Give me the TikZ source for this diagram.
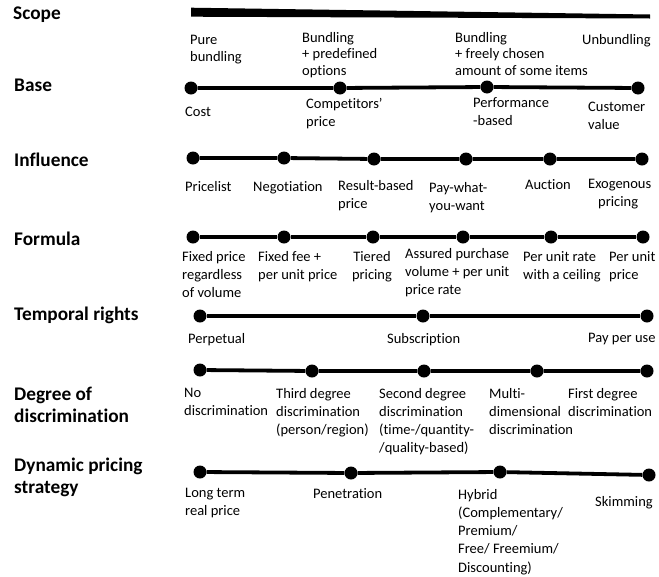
\documentclass[tikz,border=0pt]{standalone}
\usepackage{fontspec}
\setmainfont{Carlito}[Ligatures=NoCommon]
\begin{document}
\begin{tikzpicture}[x=1pt,y=-1pt,
  dot/.style={circle, fill=black, inner sep=0pt, minimum size=13pt},
  conn/.style={line width=3.8pt},
  lbl/.style={anchor=north west, inner sep=0pt, align=left, font=\fontsize{14.5}{18.2}\selectfont},
  lbls/.style={anchor=north west, inner sep=0pt, align=left, font=\fontsize{14.5}{16.6}\selectfont},
  lblc/.style={anchor=north, inner sep=0pt, align=center, font=\fontsize{14.5}{18.2}\selectfont},
  head/.style={anchor=north west, inner sep=0pt, align=left, font=\fontsize{19.3}{21.5}\selectfont\bfseries}]
\useasboundingbox (0,0) rectangle (659,576);

% headings
\node[head] (hscope) at (13,7) {Scope};
\node[head] (hbase) at (14,79) {Base};
\node[head] (hinfl) at (14,153) {Influence};
\node[head] (hform) at (14,232) {Formula};
\node[head] (htemp) at (14,307) {Temporal rights};
\node[head] (hdeg) at (14,387) {Degree of\\discrimination};
\node[head] (hdyn) at (14,458) {Dynamic pricing\\strategy};

% scope wedge
\fill (191,7.7) -- (650,14.5) -- (650,18.5) -- (191,16.7) -- cycle;
\node[lbls] (s1) at (190,35) {Pure\\bundling};
\node[lbls] (s2) at (302,32) {Bundling\\+ predefined\\options};
\node[lbls] (s3) at (455,32) {Bundling\\+ freely chosen\\amount of some items};
\node[lbls] (s4) at (582,34) {Unbundling};

% base
\node[dot] (b1) at (191,88) {};
\node[dot] (b2) at (340,88) {};
\node[dot] (b3) at (487,87) {};
\node[dot] (b4) at (638,88) {};
\draw[conn] (b1) -- (b2) -- (b3) -- (b4);
\node[lbl] (lb1) at (185,107) {Cost};
\node[lbl] (lb2) at (306,98) {Competitors'\\price};
\node[lbl] (lb3) at (473,97) {Performance\\-based};
\node[lbl] (lb4) at (588,102) {Customer\\value};

% influence
\node[dot] (i1) at (193,158) {};
\node[dot] (i2) at (284,158) {};
\node[dot] (i3) at (374,159) {};
\node[dot] (i4) at (466,159) {};
\node[dot] (i5) at (550,159) {};
\node[dot] (i6) at (642,159) {};
\draw[conn] (i1) -- (i2) -- (i3) -- (i4) -- (i5) -- (i6);
\node[lbl] (li1) at (185,181) {Pricelist};
\node[lbl] (li2) at (253,181) {Negotiation};
\node[lbl] (li3) at (338,180) {Result-based\\price};
\node[lbl] (li4) at (429,182) {Pay-what-\\you-want};
\node[lbl] (li5) at (525,179) {Auction};
\node[lbl] (li6) at (588,179) {Exogenous\\\hspace*{10pt}pricing};

% formula
\node[dot] (f1) at (193,237) {};
\node[dot] (f2) at (284,237) {};
\node[dot] (f3) at (373,237) {};
\node[dot] (f4) at (463,237) {};
\node[dot] (f5) at (551,237) {};
\node[dot] (f6) at (643,237) {};
\draw[conn] (f1) -- (f2) -- (f3) -- (f4) -- (f5) -- (f6);
\node[lbl] (lf1) at (182,251) {Fixed price\\regardless\\of volume};
\node[lbl] (lf2) at (258,251) {Fixed fee +\\per unit price};
\node[lblc] (lf3) at (372,251) {Tiered\\pricing};
\node[lbl] (lf4) at (405,248) {Assured purchase\\volume + per unit\\price rate};
\node[lbl] (lf5) at (523,251) {Per unit rate\\with a ceiling};
\node[lbl] (lf6) at (609,251) {Per unit\\price};

% temporal rights
\node[dot] (t1) at (200,316) {};
\node[dot] (t2) at (423,316) {};
\node[dot] (t3) at (647,316) {};
\draw[conn] (t1) -- (t2) -- (t3);
\node[lbl] (lt1) at (188,333) {Perpetual};
\node[lbl] (lt2) at (387,333) {Subscription};
\node[lbl] (lt3) at (588,333) {Pay per use};

% degree of discrimination
\node[dot] (d1) at (200,370) {};
\node[dot] (d2) at (312,371) {};
\node[dot] (d3) at (424,371) {};
\node[dot] (d4) at (537,371) {};
\node[dot] (d5) at (647,371) {};
\draw[conn] (d1) -- (d2) -- (d3) -- (d4) -- (d5);
\node[lbl] (ld1) at (184,388) {No\\discrimination};
\node[lbl] (ld2) at (276,388) {Third degree\\discrimination\\(person/region)};
\node[lbl] (ld3) at (379,388) {Second degree\\discrimination\\(time-/quantity-\\/quality-based)};
\node[lbl] (ld4) at (489,388) {Multi-\\dimensional\\discrimination};
\node[lbl] (ld5) at (568,388) {First degree\\discrimination};

% dynamic pricing strategy
\node[dot] (p1) at (200,472) {};
\node[dot] (p2) at (351,473) {};
\node[dot] (p3) at (500,472) {};
\node[dot] (p4) at (649,475) {};
\draw[conn] (p1) -- (p2) -- (p3) -- (p4);
\node[lbl] (lp1) at (185,488) {Long term\\real price};
\node[lbl] (lp2) at (313,488) {Penetration};
\node[lbl] (lp3) at (458,489) {Hybrid\\(Complementary/\\Premium/\\Free/ Freemium/\\Discounting)};
\node[lbl] (lp4) at (595,496) {Skimming};
\end{tikzpicture}
\end{document}
